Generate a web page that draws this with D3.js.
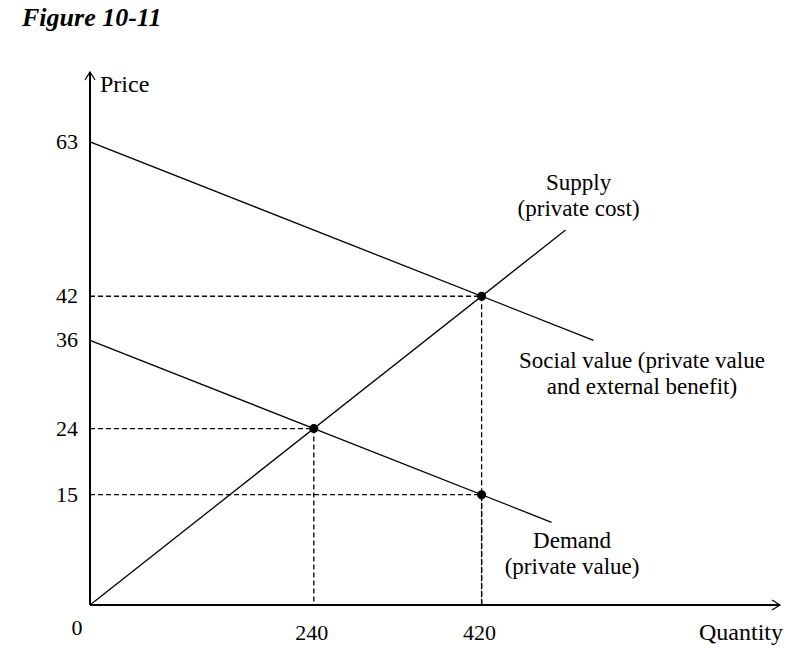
<!DOCTYPE html>
<html>
<head>
<meta charset="utf-8">
<script src="https://d3js.org/d3.v7.min.js"></script>
<style>
  body { margin: 0; background: #fff; }
  svg { display: block; }
  text { font-family: "Liberation Serif", "DejaVu Serif", serif; fill: #000; }
</style>
</head>
<body>
<svg id="chart" width="799" height="653"></svg>
<script>
// Data
const priceTicks = [63, 42, 36, 24, 15];
const quantityTicks = [240, 420];
const supply = [[0, 0], [510, 51]];
const socialValue = [[0, 63], [540, 36]];
const demand = [[0, 36], [495, 11.25]];
const points = [[420, 42], [240, 24], [420, 15]];
const curveLabels = [
  ["Supply", "(private cost)"],
  ["Social value (private value", "and external benefit)"],
  ["Demand", "(private value)"]
];
// label anchors in data units (quantity, price)
const labelAnchors = [[524, 56.5], [592, 32.2], [517, 7.8]];

const svg = d3.select('#chart');

const x = d3.scaleLinear().domain([0, 740]).range([90, 780]);
const y = d3.scaleLinear().domain([0, 72.5]).range([605, 72]);

// Title
svg.append('text')
  .attr('x', 22).attr('y', 26)
  .style('font-size', '26px')
  .style('font-weight', 'bold')
  .style('font-style', 'italic')
  .text('Figure  10-11');

// Dashed guides
points.forEach(([q, p]) => {
  svg.append('line')
    .attr('x1', x(0)).attr('y1', y(p))
    .attr('x2', x(q)).attr('y2', y(p))
    .attr('stroke', '#000').attr('stroke-width', 1.3)
    .attr('stroke-dasharray', '5,3');
  svg.append('line')
    .attr('x1', x(q)).attr('y1', y(p))
    .attr('x2', x(q)).attr('y2', y(0))
    .attr('stroke', '#000').attr('stroke-width', 1.3)
    .attr('stroke-dasharray', '5,3');
});

// Curves
const line = d3.line().x(d => x(d[0])).y(d => y(d[1]));
[supply, socialValue, demand].forEach(d => {
  svg.append('path')
    .attr('d', line(d))
    .attr('fill', 'none')
    .attr('stroke', '#000')
    .attr('stroke-width', 1.3);
});

// Axes
svg.append('line')
  .attr('x1', x(0)).attr('y1', y(0))
  .attr('x2', x(0)).attr('y2', y(72.5))
  .attr('stroke', '#000').attr('stroke-width', 2);
svg.append('line')
  .attr('x1', x(0)).attr('y1', y(0))
  .attr('x2', x(740)).attr('y2', y(0))
  .attr('stroke', '#000').attr('stroke-width', 2);
// Arrow heads
svg.append('path')
  .attr('d', `M${x(0) - 5},${y(72.5) + 8} L${x(0)},${y(72.5)} L${x(0) + 5},${y(72.5) + 8}`)
  .attr('fill', 'none').attr('stroke', '#000').attr('stroke-width', 1.2);
svg.append('path')
  .attr('d', `M${x(740) - 8},${y(0) - 5} L${x(740)},${y(0)} L${x(740) - 8},${y(0) + 5}`)
  .attr('fill', 'none').attr('stroke', '#000').attr('stroke-width', 1.2);

// Tick labels
priceTicks.forEach(p => {
  svg.append('text')
    .attr('x', 78).attr('y', y(p) + 7)
    .attr('text-anchor', 'end')
    .style('font-size', '22px')
    .text(p);
});
quantityTicks.forEach(q => {
  svg.append('text')
    .attr('x', x(q) - 2).attr('y', 640)
    .attr('text-anchor', 'middle')
    .style('font-size', '22px')
    .text(q);
});
svg.append('text')
  .attr('x', 77).attr('y', 635)
  .attr('text-anchor', 'middle')
  .style('font-size', '22px')
  .text('0');

// Axis titles
svg.append('text')
  .attr('x', 100).attr('y', 92)
  .style('font-size', '24px')
  .text('Price');
svg.append('text')
  .attr('x', 783).attr('y', 640)
  .attr('text-anchor', 'end')
  .style('font-size', '24px')
  .text('Quantity');

// Points
svg.selectAll('circle.pt')
  .data(points)
  .join('circle')
  .attr('class', 'pt')
  .attr('cx', d => x(d[0]))
  .attr('cy', d => y(d[1]))
  .attr('r', 4.5)
  .attr('fill', '#000');

// Curve labels
curveLabels.forEach((lines, k) => {
  const [q, p] = labelAnchors[k];
  lines.forEach((t, i) => {
    svg.append('text')
      .attr('x', x(q)).attr('y', y(p) + i * 26)
      .attr('text-anchor', 'middle')
      .style('font-size', '23px')
      .text(t);
  });
});
</script>
</body>
</html>
